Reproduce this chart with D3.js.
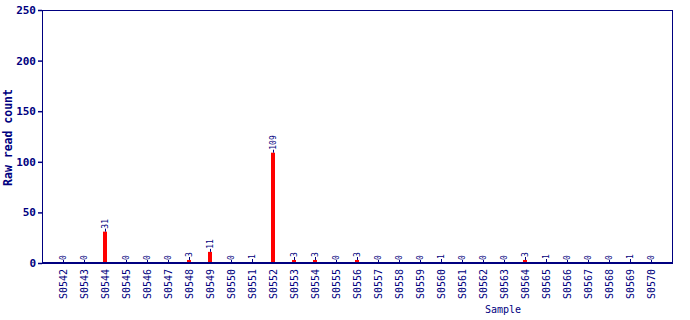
<!DOCTYPE html>
<html>
<head>
<meta charset="utf-8">
<script src="https://cdn.jsdelivr.net/npm/d3@7"></script>
<style>
  html, body { margin: 0; padding: 0; background: #fff; }
  svg { display: block; font-family: "DejaVu Sans Mono", "Liberation Mono", monospace; }
</style>
</head>
<body>
<div id="chart"></div>
<script>
// raw read counts per sample
const samples = ["S0542", "S0543", "S0544", "S0545", "S0546", "S0547", "S0548", "S0549", "S0550", "S0551",
  "S0552", "S0553", "S0554", "S0555", "S0556", "S0557", "S0558", "S0559", "S0560", "S0561",
  "S0562", "S0563", "S0564", "S0565", "S0566", "S0567", "S0568", "S0569", "S0570"];
const readCounts = [0, 0, 31, 0, 0, 0, 3, 11, 0, 1,
  109, 3, 3, 0, 3, 0, 0, 0, 1, 0,
  0, 0, 3, 1, 0, 0, 0, 1, 0];
const yTicks = [0, 50, 100, 150, 200, 250];

(function () {
  const width = 690;
  const height = 320;
  const margin = { top: 10, right: 18, bottom: 57, left: 42 };
  const navy = "#000080";
  const barColor = "#ff0000";

  const svg = d3.select("#chart").append("svg")
    .attr("width", width)
    .attr("height", height);

  const x = d3.scalePoint()
    .domain(samples)
    .range([margin.left, width - margin.right])
    .padding(1);

  const y = d3.scaleLinear()
    .domain([0, 250])
    .range([height - margin.bottom, margin.top]);

  const data = samples.map((s, i) => ({ sample: s, value: readCounts[i] }));

  // bars
  svg.append("g")
    .selectAll("rect")
    .data(data)
    .join("rect")
    .attr("x", (d) => x(d.sample) - 2)
    .attr("y", (d) => y(d.value))
    .attr("width", 4)
    .attr("height", (d) => y(0) - y(d.value))
    .attr("fill", barColor);

  // small stems + value labels
  const labels = svg.append("g");
  labels.selectAll("line")
    .data(data)
    .join("line")
    .attr("x1", (d) => x(d.sample) + 0.5)
    .attr("x2", (d) => x(d.sample) + 0.5)
    .attr("y1", (d) => y(d.value))
    .attr("y2", (d) => y(d.value) - 3)
    .attr("stroke", navy)
    .attr("stroke-width", 1);

  labels.selectAll("text")
    .data(data)
    .join("text")
    .attr("transform", (d) => `translate(${x(d.sample) + 3},${y(d.value) - 3}) rotate(-90)`)
    .attr("fill", navy)
    .attr("font-size", "8px")
    .attr("text-anchor", "start")
    .text((d) => d.value);

  // frame
  svg.append("rect")
    .attr("x", margin.left + 0.5)
    .attr("y", margin.top + 0.5)
    .attr("width", width - margin.left - margin.right)
    .attr("height", height - margin.top - margin.bottom)
    .attr("fill", "none")
    .attr("stroke", navy)
    .attr("stroke-width", 1);

  svg.append("line")
    .attr("x1", margin.left)
    .attr("x2", width - margin.right + 1)
    .attr("y1", y(0))
    .attr("y2", y(0))
    .attr("stroke", navy)
    .attr("stroke-width", 2);

  // y axis
  const yAxis = d3.axisLeft(y).tickValues(yTicks).tickSize(4).tickPadding(2);
  svg.append("g")
    .attr("transform", `translate(${margin.left},0)`)
    .call(yAxis)
    .call((g) => g.select(".domain").remove())
    .call((g) => g.selectAll("line").attr("stroke", navy).attr("stroke-width", 1.5))
    .call((g) => g.selectAll("text")
      .attr("fill", navy)
      .attr("font-size", "11px")
      .attr("font-weight", "bold")
      .attr("font-family", "DejaVu Sans Mono, monospace"));

  // x axis labels
  svg.append("g")
    .selectAll("text")
    .data(samples)
    .join("text")
    .attr("transform", (d) => `translate(${x(d) + 4},${y(0) + 6}) rotate(-90)`)
    .attr("text-anchor", "end")
    .attr("fill", navy)
    .attr("font-size", "10px")
    .text((d) => d);

  svg.append("text")
    .attr("x", 503)
    .attr("y", 313)
    .attr("text-anchor", "middle")
    .attr("fill", navy)
    .attr("font-size", "10px")
    .text("Sample");

  svg.append("text")
    .attr("transform", `translate(12,${(margin.top + height - margin.bottom) / 2 + 1}) rotate(-90)`)
    .attr("text-anchor", "middle")
    .attr("fill", navy)
    .attr("font-size", "11.5px")
    .attr("font-weight", "bold")
    .text("Raw read count");
})();
</script>
</body>
</html>
